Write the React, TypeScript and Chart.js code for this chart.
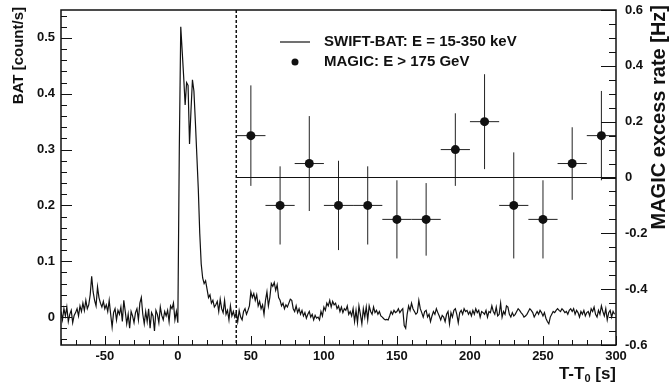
import React, { useEffect, useRef } from "react";
import { Chart, registerables } from "chart.js";

Chart.register(...registerables);

// ---------- data ----------
// SWIFT-BAT light curve, 1 s bins starting at T-T0 = -80 s
const batStartTime = -80;
const batBinWidth = 1;
const batRate = [
  // -80 .. -41
  0.010, -0.005, 0.015, 0.002, 0.018, -0.008, 0.005, 0.012, -0.010, 0.003,
  0.008, 0.015, 0.002, 0.020, 0.010, 0.025, 0.012, 0.030, 0.015, 0.022,
  0.040, 0.073, 0.045, 0.030, 0.020, 0.054, 0.035, 0.025, 0.018, 0.028,
  0.015, 0.022, 0.010, 0.030, 0.005, -0.018, 0.008, 0.015, -0.005, 0.012,
  // -40 .. -1
  0.005, 0.018, -0.008, 0.030, 0.010, -0.012, 0.005, -0.020, 0.010, 0.002,
  -0.010, 0.008, 0.015, -0.005, 0.025, 0.035, 0.005, -0.012, 0.010, -0.008,
  0.015, -0.020, 0.008, 0.002, -0.025, 0.012, 0.005, -0.010, 0.018, 0.003,
  -0.005, 0.010, 0.002, 0.012, -0.008, 0.020, 0.015, 0.025, -0.005, 0.010,
  // 0 .. 39
  -0.010, 0.300, 0.520, 0.475, 0.430, 0.380, 0.420, 0.415, 0.310, 0.370,
  0.425, 0.405, 0.350, 0.290, 0.230, 0.150, 0.095, 0.070, 0.060, 0.065,
  0.050, 0.035, 0.040, 0.025, 0.030, 0.018, 0.022, 0.028, 0.010, 0.032,
  0.015, 0.008, 0.030, 0.005, 0.012, -0.005, 0.020, 0.002, 0.010, 0.000,
  // 40 .. 79
  0.008, -0.008, 0.012, 0.000, -0.005, 0.010, 0.015, 0.005, 0.012, 0.020,
  0.045, 0.035, 0.042, 0.030, 0.040, 0.020, 0.028, 0.015, 0.022, 0.005,
  0.030, 0.045, 0.020, 0.035, 0.060, 0.055, 0.062, 0.048, 0.058, 0.035,
  0.030, 0.020, 0.025, 0.015, 0.022, 0.018, 0.025, 0.032, 0.030, 0.015,
  // 80 .. 119
  0.010, 0.020, 0.008, 0.015, 0.005, 0.012, 0.002, 0.008, -0.002, 0.005,
  0.010, 0.000, 0.005, -0.005, 0.003, -0.002, 0.000, -0.005, 0.010, 0.002,
  0.018, 0.012, 0.025, 0.020, 0.030, 0.018, 0.028, 0.022, 0.025, 0.015,
  0.020, 0.010, 0.018, 0.008, 0.015, 0.012, 0.020, 0.005, 0.010, 0.002,
  // 120 .. 159
  0.015, -0.008, 0.012, -0.010, 0.020, 0.005, -0.012, 0.015, 0.000, 0.018,
  -0.005, 0.020, 0.010, 0.005, 0.018, 0.008, 0.012, 0.005, 0.010, 0.002,
  0.000, -0.003, -0.005, -0.004, -0.005, 0.002, 0.010, 0.005, 0.012, 0.008,
  0.010, 0.015, 0.008, 0.012, 0.015, -0.015, -0.020, 0.005, 0.020, 0.012,
  // 160 .. 199
  0.025, 0.015, 0.010, 0.005, 0.008, 0.030, 0.015, 0.008, 0.000, 0.010,
  0.012, 0.000, 0.005, -0.008, 0.002, 0.010, 0.005, 0.015, 0.008, 0.002,
  -0.005, 0.003, 0.000, -0.008, 0.005, 0.010, -0.012, 0.008, 0.000, 0.012,
  0.015, 0.005, -0.010, 0.008, 0.012, 0.005, 0.015, 0.010, 0.012, 0.005,
  // 200 .. 239
  0.010, 0.002, 0.012, 0.005, 0.015, 0.008, 0.012, 0.000, 0.010, 0.008,
  0.005, 0.012, 0.000, 0.010, 0.008, 0.020, 0.010, 0.005, 0.018, 0.002,
  0.005, 0.025, 0.000, 0.010, 0.005, 0.020, 0.018, 0.005, 0.000, 0.008,
  0.002, 0.005, 0.010, 0.015, 0.012, 0.008, 0.005, 0.000, 0.002, 0.005,
  // 240 .. 279
  0.010, 0.015, 0.012, 0.008, 0.000, 0.005, 0.010, 0.005, 0.012, 0.008,
  0.002, 0.008, -0.002, -0.008, -0.012, 0.000, 0.005, 0.010, 0.008, 0.012,
  0.015, 0.012, 0.010, 0.015, 0.012, 0.008, 0.010, 0.005, 0.012, 0.015,
  0.010, 0.015, 0.005, 0.012, 0.008, 0.000, 0.010, 0.005, 0.012, 0.002,
  // 280 .. 299
  0.008, 0.010, 0.002, 0.015, 0.010, 0.018, 0.005, 0.000, 0.012, 0.005,
  0.020, 0.010, 0.002, 0.015, -0.005, 0.008, 0.012, 0.000, 0.010, 0.005,
];

// MAGIC excess rate (E > 175 GeV)
const magicTime = [50, 70, 90, 110, 130, 150, 170, 190, 210, 230, 250, 270, 290];
const magicHalfWidth = [10, 10, 10, 10, 10, 10, 10, 10, 10, 10, 10, 10, 10];
const magicRate = [0.15, -0.10, 0.05, -0.10, -0.10, -0.15, -0.15, 0.10, 0.20, -0.10, -0.15, 0.05, 0.15];
const magicErr = [0.18, 0.14, 0.17, 0.16, 0.14, 0.14, 0.13, 0.13, 0.17, 0.19, 0.14, 0.13, 0.16];

// zero reference line for MAGIC, and MAGIC start marker
const zeroLineTime = [40, 300];
const zeroLineRate = [0, 0];
const magicStartTime = 40;

// axes
const xRange = [-80, 300];
const xTickValues = [-50, 0, 50, 100, 150, 200, 250, 300];
const batRange = [-0.05, 0.55];
const batTickValues = [0, 0.1, 0.2, 0.3, 0.4, 0.5];
const magicRange = [-0.6, 0.6];
const magicTickValues = [-0.6, -0.4, -0.2, 0, 0.2, 0.4, 0.6];

const FONT = '"Liberation Sans", Arial, Helvetica, sans-serif';
const INK = "#111";

function fmt(v: number): string {
  if (Math.abs(v) < 1e-9) return "0";
  return String(Math.round(v * 10) / 10);
}

const decorPlugin = {
  id: "decor",
  beforeDatasetsDraw(chart: any) {
    const { ctx, chartArea: a, scales } = chart;
    const x = scales.x;
    const y2 = scales.y2;
    ctx.save();
    // dashed start line
    const xd = x.getPixelForValue(magicStartTime);
    ctx.strokeStyle = INK;
    ctx.lineWidth = 1.5;
    ctx.setLineDash([3, 2]);
    ctx.beginPath();
    ctx.moveTo(xd, a.top);
    ctx.lineTo(xd, a.bottom);
    ctx.stroke();
    ctx.setLineDash([]);
    // error bars
    ctx.lineWidth = 1;
    ctx.strokeStyle = "#222";
    for (let i = 0; i < magicTime.length; i++) {
      const px = x.getPixelForValue(magicTime[i]);
      const py = y2.getPixelForValue(magicRate[i]);
      ctx.beginPath();
      ctx.moveTo(x.getPixelForValue(magicTime[i] - magicHalfWidth[i]), py);
      ctx.lineTo(x.getPixelForValue(magicTime[i] + magicHalfWidth[i]), py);
      ctx.moveTo(px, y2.getPixelForValue(magicRate[i] + magicErr[i]));
      ctx.lineTo(px, y2.getPixelForValue(magicRate[i] - magicErr[i]));
      ctx.stroke();
    }
    ctx.restore();
  },
  afterDraw(chart: any) {
    const { ctx, chartArea: a, scales } = chart;
    const x = scales.x;
    const y = scales.y;
    const y2 = scales.y2;
    ctx.save();
    ctx.strokeStyle = INK;
    ctx.fillStyle = INK;
    // frame
    ctx.lineWidth = 1.5;
    ctx.strokeRect(a.left, a.top, a.right - a.left, a.bottom - a.top);
    ctx.lineWidth = 1;
    // bottom ticks
    ctx.beginPath();
    for (let k = -8; k <= 30; k++) {
      const v = k * 10;
      const px = Math.round(x.getPixelForValue(v)) + 0.5;
      const len = k % 5 === 0 ? 9 : 5;
      ctx.moveTo(px, a.bottom);
      ctx.lineTo(px, a.bottom - len);
    }
    // left ticks
    for (let k = -2; k <= 27; k++) {
      const v = k * 0.02;
      const py = Math.round(y.getPixelForValue(v)) + 0.5;
      const len = k % 5 === 0 ? 11 : 6;
      ctx.moveTo(a.left, py);
      ctx.lineTo(a.left + len, py);
    }
    // right ticks
    for (let k = -12; k <= 12; k++) {
      const v = k * 0.05;
      const py = Math.round(y2.getPixelForValue(v)) + 0.5;
      const len = k % 4 === 0 ? 15 : 7;
      ctx.moveTo(a.right, py);
      ctx.lineTo(a.right - len, py);
    }
    ctx.stroke();

    // legend
    ctx.lineWidth = 1.2;
    ctx.beginPath();
    ctx.moveTo(280, 42);
    ctx.lineTo(310, 42);
    ctx.stroke();
    ctx.beginPath();
    ctx.arc(295, 62, 3.5, 0, Math.PI * 2);
    ctx.fill();
    ctx.font = `bold 15px ${FONT}`;
    ctx.textBaseline = "middle";
    ctx.textAlign = "left";
    ctx.fillText("SWIFT-BAT: E = 15-350 keV", 324, 42);
    ctx.fillText("MAGIC: E > 175 GeV", 324, 62);

    // x title: T-T0 [s]
    ctx.textBaseline = "alphabetic";
    const big = `bold 17px ${FONT}`;
    const small = `bold 11px ${FONT}`;
    ctx.font = big;
    const w1 = ctx.measureText("T-T").width;
    const w3 = ctx.measureText(" [s]").width;
    ctx.font = small;
    const w2 = ctx.measureText("0").width;
    let sx = a.right - (w1 + w2 + w3);
    const base = 379;
    ctx.font = big;
    ctx.fillText("T-T", sx, base);
    sx += w1;
    ctx.font = small;
    ctx.fillText("0", sx, base + 3);
    sx += w2;
    ctx.font = big;
    ctx.fillText(" [s]", sx, base);

    // left title
    ctx.save();
    ctx.translate(23, a.top - 3);
    ctx.rotate(-Math.PI / 2);
    ctx.font = `bold 15px ${FONT}`;
    ctx.textAlign = "right";
    ctx.textBaseline = "alphabetic";
    ctx.fillText("BAT [count/s]", 0, 0);
    ctx.restore();

    // right title
    ctx.save();
    ctx.translate(665, a.top - 5);
    ctx.rotate(-Math.PI / 2);
    ctx.font = `bold 20px ${FONT}`;
    ctx.textAlign = "right";
    ctx.textBaseline = "alphabetic";
    ctx.fillText("MAGIC excess rate [Hz]", 0, 0);
    ctx.restore();

    ctx.restore();
  },
};

export default function App() {
  const canvasRef = useRef<HTMLCanvasElement | null>(null);

  useEffect(() => {
    const canvas = canvasRef.current;
    if (!canvas) return;
    const batPoints = batRate.map((v, i) => ({ x: batStartTime + i * batBinWidth, y: v }));
    const magicPoints = magicTime.map((t, i) => ({ x: t, y: magicRate[i] }));
    const zeroPoints = zeroLineTime.map((t, i) => ({ x: t, y: zeroLineRate[i] }));
    const tickFont = { family: FONT, size: 13, weight: "bold" as const };

    const chart = new Chart(canvas, {
      type: "line",
      data: {
        datasets: [
          {
            label: "SWIFT-BAT: E = 15-350 keV",
            data: batPoints,
            yAxisID: "y",
            borderColor: INK,
            borderWidth: 1.2,
            pointRadius: 0,
            tension: 0,
            fill: false,
          },
          {
            label: "zero",
            data: zeroPoints,
            yAxisID: "y2",
            borderColor: INK,
            borderWidth: 1,
            pointRadius: 0,
            fill: false,
          },
          {
            label: "MAGIC: E > 175 GeV",
            data: magicPoints,
            yAxisID: "y2",
            showLine: false,
            pointRadius: 4.5,
            pointBackgroundColor: INK,
            pointBorderColor: INK,
            pointBorderWidth: 0,
          },
        ],
      },
      options: {
        animation: false,
        responsive: false,
        devicePixelRatio: 1,
        layout: { padding: { top: 10, left: 0, right: 0, bottom: 0 } },
        plugins: {
          legend: { display: false },
          tooltip: { enabled: false },
        },
        scales: {
          x: {
            type: "linear",
            min: xRange[0],
            max: xRange[1],
            grid: { display: false, drawTicks: false },
            border: { display: false },
            afterBuildTicks: (s: any) => {
              s.ticks = xTickValues.map((v) => ({ value: v }));
            },
            afterFit: (s: any) => {
              s.height = 39;
              s.paddingLeft = 0;
              s.paddingRight = 0;
            },
            ticks: {
              color: INK,
              font: tickFont,
              padding: 4,
              maxRotation: 0,
              autoSkip: false,
              callback: (v: any) => String(v),
            },
          },
          y: {
            type: "linear",
            position: "left",
            min: batRange[0],
            max: batRange[1],
            grid: { display: false, drawTicks: false },
            border: { display: false },
            afterBuildTicks: (s: any) => {
              s.ticks = batTickValues.map((v) => ({ value: v }));
            },
            afterFit: (s: any) => {
              s.width = 61;
              s.paddingTop = 0;
              s.paddingBottom = 0;
            },
            ticks: {
              color: INK,
              font: tickFont,
              padding: 6,
              autoSkip: false,
              callback: (v: any) => fmt(Number(v)),
            },
          },
          y2: {
            type: "linear",
            position: "right",
            min: magicRange[0],
            max: magicRange[1],
            grid: { display: false, drawTicks: false },
            border: { display: false },
            afterBuildTicks: (s: any) => {
              s.ticks = magicTickValues.map((v) => ({ value: v }));
            },
            afterFit: (s: any) => {
              s.width = 53;
              s.paddingTop = 0;
              s.paddingBottom = 0;
            },
            ticks: {
              color: INK,
              font: tickFont,
              padding: 9,
              autoSkip: false,
              callback: (v: any) => fmt(Number(v)),
            },
          },
        },
      },
      plugins: [decorPlugin],
    });
    return () => chart.destroy();
  }, []);

  return (
    <div style={{ position: "fixed", left: 0, top: 0, width: 669, height: 384, background: "#fff" }}>
      <canvas ref={canvasRef} width={669} height={384} style={{ display: "block" }} />
    </div>
  );
}
